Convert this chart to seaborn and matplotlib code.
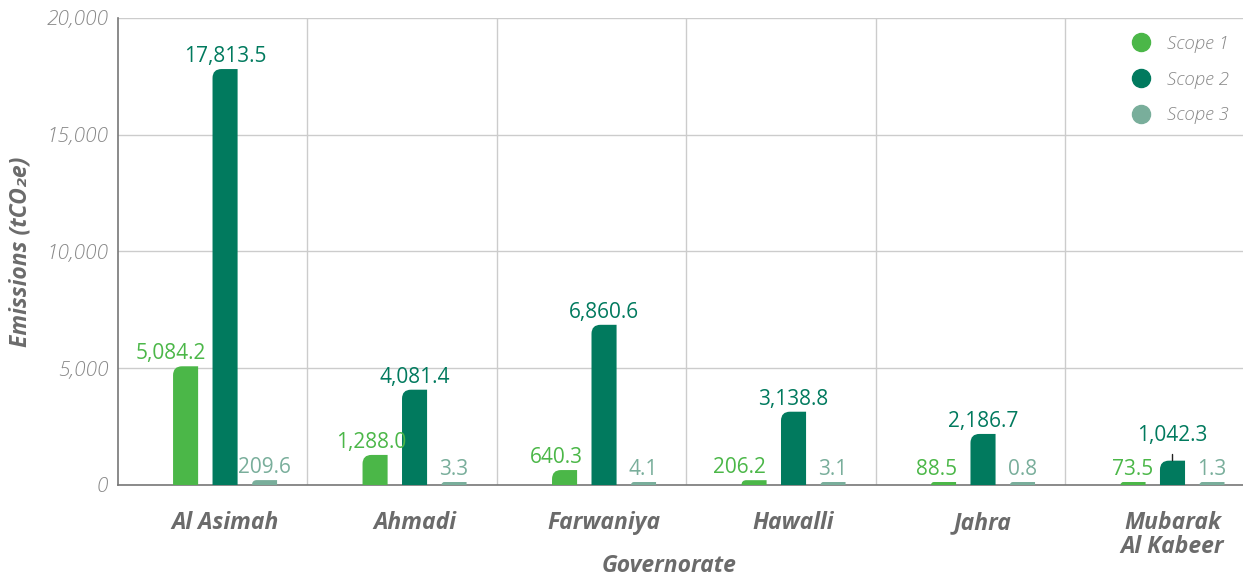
import numpy as np
import pandas as pd
import matplotlib
matplotlib.use("Agg")
import matplotlib.pyplot as plt
from matplotlib.path import Path
from matplotlib.patches import PathPatch
from matplotlib.lines import Line2D
import seaborn as sns

governorates = ["Al Asimah", "Ahmadi", "Farwaniya", "Hawalli", "Jahra", "Mubarak\nAl Kabeer"]
scopes = ["Scope 1", "Scope 2", "Scope 3"]
scope1 = [5084.2, 1288.0, 640.3, 206.2, 88.5, 73.5]
scope2 = [17813.5, 4081.4, 6860.6, 3138.8, 2186.7, 1042.3]
scope3 = [209.6, 3.3, 4.1, 3.1, 0.8, 1.3]
colors = ["#4bb748", "#017a5e", "#79ae9b"]

df = pd.DataFrame({
    "Governorate": governorates * 3,
    "Emissions": scope1 + scope2 + scope3,
    "Scope": sum([[s] * len(governorates) for s in scopes], []),
})

sns.set_style("white")
plt.rcParams["font.family"] = ["Open Sans", "DejaVu Sans"]

W, H = 1243, 581
fig = plt.figure(figsize=(W / 100, H / 100), dpi=100)
ax = fig.add_axes([118 / W, (H - 485) / H, (W - 118) / W, 467 / H])

sns.barplot(data=df, x="Governorate", y="Emissions", hue="Scope", palette=colors,
            width=0.625, gap=0.365, legend=False, ax=ax, saturation=1)

ax.set_xlim(-0.565, (W - 225) / 189.5)
ax.set_ylim(0, 20000)

# rounded top-left corner on every bar
px_x = 1 / 189.5
px_y = 20000 / 467
bars = list(ax.patches)
for p in bars:
    x, y0, w, h = p.get_x(), p.get_y(), p.get_width(), p.get_height()
    h = max(h, 3 * px_y)
    top = y0 + h
    ry = min(9 * px_y, h)
    rx = 9 * px_x * ry / (9 * px_y)
    verts = [(x, y0), (x, top - ry), (x, top), (x + rx, top), (x + w, top), (x + w, y0), (x, y0)]
    codes = [Path.MOVETO, Path.LINETO, Path.CURVE3, Path.CURVE3, Path.LINETO, Path.LINETO, Path.CLOSEPOLY]
    pp = PathPatch(Path(verts, codes), facecolor=p.get_facecolor(), edgecolor="none", zorder=3)
    p.remove()
    ax.add_patch(pp)

# value labels (scope 1 labels nudged left like the original)
values = [scope1, scope2, scope3]
nudge1 = [-15, -4, -8, -15, -7, 0]
for k, (vals, c) in enumerate(zip(values, colors)):
    for i, v in enumerate(vals):
        xc = i + (k - 1) * 0.625 / 3
        top = max(v, 3 * px_y)
        dx = nudge1[i] if k == 0 else 0
        if k == 1 and i == 5:
            ax.annotate(f"{v:,.1f}", xy=(xc, top), xytext=(0, 20), textcoords="offset pixels",
                        ha="center", va="baseline", color=c, fontsize=15,
                        arrowprops=dict(arrowstyle="-", color="#222222", lw=1.0,
                                        shrinkA=4, shrinkB=0))
        else:
            ax.annotate(f"{v:,.1f}", xy=(xc, top), xytext=(dx, 7), textcoords="offset pixels",
                        ha="center", va="baseline", color=c, fontsize=15)

# grid and spines
ax.set_yticks([0, 5000, 10000, 15000, 20000])
ax.set_yticklabels(["0", "5,000", "10,000", "15,000", "20,000"])
ax.set_xticks(range(6), labels=governorates)
ax.set_xticks([i + 0.433 for i in range(5)], minor=True)
ax.grid(axis="y", color="#cccccc", lw=1, zorder=0)
ax.grid(axis="x", which="minor", color="#cccccc", lw=1, zorder=0)
ax.set_axisbelow(True)
for s in ["top", "right"]:
    ax.spines[s].set_visible(False)
for s in ["left", "bottom"]:
    ax.spines[s].set_color("#777777")
    ax.spines[s].set_linewidth(1.2)
ax.tick_params(axis="both", which="both", length=0)
ax.tick_params(axis="y", pad=7)
ax.tick_params(axis="x", pad=19)
for t in ax.get_yticklabels():
    t.set_fontsize(15)
    t.set_fontstyle("italic")
    t.set_fontweight("light")
    t.set_color("#888888")
for t in ax.get_xticklabels():
    t.set_fontsize(16.5)
    t.set_fontstyle("italic")
    t.set_fontweight("bold")
    t.set_color("#6b6b6b")
    t.set_linespacing(1.0)

ax.set_xlabel("Governorate", fontsize=16.5, fontstyle="italic", fontweight="bold",
              color="#6b6b6b", va="center")
ax.xaxis.set_label_coords(0.49, -81 / 467)
ax.set_ylabel("Emissions (tCO₂e)", fontsize=16.5, fontstyle="italic", fontweight="bold",
              color="#6b6b6b", labelpad=10)

handles = [Line2D([], [], marker="o", ls="none", markersize=13, color=c) for c in colors]
leg = ax.legend(handles, scopes, loc="upper right", bbox_to_anchor=(1.003, 1.0), frameon=False,
                handletextpad=0.4, labelspacing=0.95, fontsize=13.5)
for t in leg.get_texts():
    t.set_fontstyle("italic")
    t.set_fontweight("light")
    t.set_color("#888888")

fig.savefig("out.png", dpi=100)
